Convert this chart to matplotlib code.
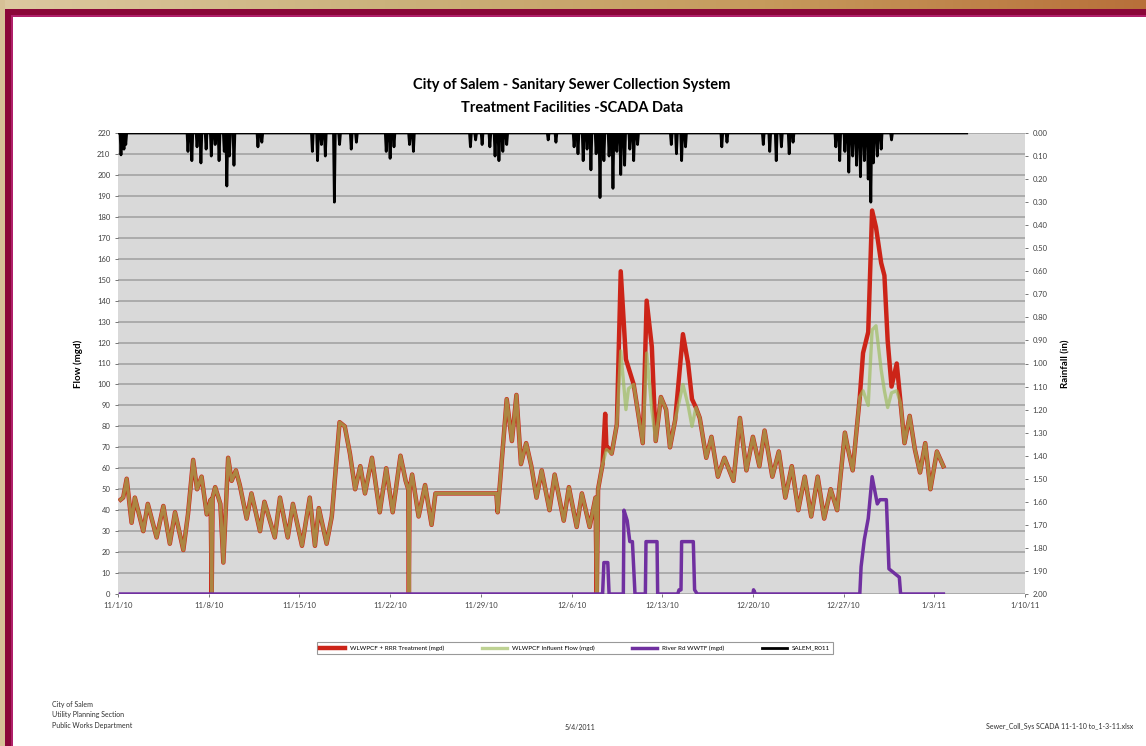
import matplotlib
matplotlib.use("Agg")
import matplotlib.pyplot as plt
import numpy as np
from matplotlib.patches import Rectangle
from matplotlib.colors import LinearSegmentedColormap

plt.rcParams['font.family'] = ['Lato', 'DejaVu Sans']

# x axis: days since 11/1/10
tick_days = [0, 7, 14, 21, 28, 35, 42, 49, 56, 63, 70]
tick_labels = ["11/1/10", "11/8/10", "11/15/10", "11/22/10", "11/29/10", "12/6/10",
               "12/13/10", "12/20/10", "12/27/10", "1/3/11", "1/10/11"]

# WLWPCF influent flow (mgd)
infl_day = [0.2, 0.4, 0.67, 1.05, 1.3, 1.95, 2.3, 2.98, 3.5, 4.0, 4.4, 5.04, 5.4, 5.8, 6.1,
            6.45, 6.85, 7.15, 7.23, 7.3, 7.5, 7.9, 8.13, 8.5, 8.77, 9.1, 9.4, 9.93, 10.3,
            10.96, 11.3, 12.1, 12.5, 13.1, 13.5, 14.2, 14.8, 15.2, 15.5, 16.1, 16.5, 17.1,
            17.5, 17.9, 18.3, 18.7, 19.06, 19.6, 20.2, 20.7, 21.2, 21.8, 22.2, 22.4, 22.45,
            22.5, 22.7, 23.2, 23.7, 24.2, 24.5, 29.2, 29.3, 30.0, 30.4, 30.75, 31.1, 31.5,
            31.9, 32.3, 32.7, 33.3, 33.7, 34.4, 34.8, 35.4, 35.8, 36.4, 36.85, 36.95, 37.05,
            37.4, 37.7, 38.1, 38.5, 38.8, 39.2, 39.4, 39.8, 40.5, 40.8, 41.2, 41.5, 41.9,
            42.3, 42.6, 43.0, 43.6, 44.0, 44.3, 44.6, 44.9, 45.4, 45.8, 46.3, 46.8, 47.5,
            48.0, 48.5, 49.0, 49.5, 49.9, 50.5, 51.0, 51.5, 52.0, 52.5, 53.0, 53.5, 54.0,
            54.5, 55.0, 55.5, 56.1, 56.35, 56.7, 57.25, 57.5, 57.9, 58.2, 58.5, 58.9, 59.15,
            59.4, 59.7, 60.1, 60.4, 60.7, 61.1, 61.5, 61.9, 62.3, 62.7, 63.2, 63.7]
infl_mgd = [45, 46, 55, 34, 46, 30, 43, 27, 42, 24, 39, 21, 38, 64, 50,
            56, 38, 45, 0, 46, 51, 43, 15, 65, 54, 59, 52, 36, 48,
            30, 44, 27, 46, 27, 43, 23, 46, 23, 41, 24, 37, 82,
            80, 67, 50, 61, 48, 65, 39, 60, 39, 66, 54, 50, 0,
            50, 57, 37, 52, 33, 48, 48, 39, 93, 73, 95, 62, 72,
            61, 46, 59, 40, 57, 35, 51, 32, 48, 32, 46, 0, 50,
            62, 69, 67, 81, 116, 88, 98, 100, 72, 115, 88, 73, 94,
            88, 70, 83, 100, 90, 80, 89, 84, 65, 75, 56, 65, 54,
            84, 59, 75, 61, 78, 56, 68, 46, 61, 40, 56, 37, 56,
            36, 50, 40, 77, 69, 59, 94, 97, 90, 126, 128, 107, 97,
            89, 96, 97, 91, 72, 85, 69, 58, 72, 50, 68, 61]

# WLWPCF + RRR treatment (mgd) where it departs from influent
trt_day = [37.6, 37.8, 38.8, 39.2, 39.4, 40.8, 41.2, 43.4, 43.6, 44.0, 44.3,
           57.5, 57.9, 58.2, 58.5, 58.9, 59.15, 59.4, 59.7, 60.1]
trt_mgd = [86, 70, 154, 112, 108, 140, 118, 110, 124, 110, 93,
           115, 125, 183, 175, 158, 152, 121, 99, 110]

# River Rd WWTF (mgd)
rr_day = [0.2, 37.4, 37.5, 37.8, 37.9, 39.0, 39.05, 39.3, 39.5, 39.7, 39.9, 40.7, 40.75,
          41.6, 41.65, 43.2, 43.3, 43.45, 43.5, 44.4, 44.5, 44.7, 49.0, 49.05, 49.2, 57.25,
          57.35, 57.6, 57.9, 58.2, 58.6, 58.8, 59.3, 59.5, 60.3, 60.4, 63.7]
rr_mgd = [0, 0, 15, 15, 0, 0, 40, 35, 25, 25, 0, 0, 25,
          25, 0, 0, 2, 2, 25, 25, 2, 0, 0, 2, 0, 0,
          13, 26, 36, 56, 43, 45, 45, 12, 8, 0, 0]

# SALEM_R011 rainfall (in)
rain_day = [0.23, 0.46, 0.6, 5.4, 5.7, 6.1, 6.4, 6.8, 7.2, 7.5, 7.8, 8.2, 8.4, 8.6, 8.95,
            10.8, 11.1, 15.0, 15.4, 15.7, 16.0, 16.7, 17.1, 18.0, 18.4, 20.7, 21.0, 21.3,
            22.5, 22.8, 27.2, 27.6, 28.1, 28.7, 29.1, 29.4, 29.7, 30.0, 33.2, 33.8, 35.2,
            35.5, 35.9, 36.2, 36.5, 36.9, 37.2, 37.5, 37.9, 38.2, 38.5, 38.8, 39.1, 39.5,
            39.8, 40.1, 42.7, 43.1, 43.5, 43.8, 46.6, 47.0, 49.8, 50.3, 50.8, 51.2, 51.8,
            52.1, 55.4, 55.7, 56.1, 56.4, 56.7, 57.0, 57.3, 57.6, 57.9, 58.1, 58.3, 58.6,
            58.9, 59.7]
rain_in = [0.095, 0.07, 0.05, 0.08, 0.12, 0.06, 0.13, 0.07, 0.10, 0.05, 0.12, 0.08, 0.23,
           0.10, 0.14, 0.06, 0.04, 0.08, 0.12, 0.05, 0.10, 0.30, 0.05, 0.07, 0.04, 0.08,
           0.11, 0.06, 0.05, 0.08, 0.06, 0.03, 0.05, 0.06, 0.10, 0.12, 0.08, 0.05, 0.03,
           0.04, 0.06, 0.09, 0.12, 0.07, 0.16, 0.09, 0.28, 0.12, 0.10, 0.24, 0.08, 0.18,
           0.14, 0.07, 0.12, 0.05, 0.05, 0.09, 0.12, 0.06, 0.06, 0.04, 0.05, 0.08, 0.12,
           0.06, 0.09, 0.04, 0.06, 0.12, 0.08, 0.17, 0.10, 0.14, 0.19, 0.12, 0.20, 0.30,
           0.13, 0.10, 0.07, 0.03]
rain_end = 65.5

# build treatment series: influent outside storm windows, treatment values inside
infl_day = np.array(infl_day)
infl_mgd = np.array(infl_mgd, dtype=float)
t_days = np.concatenate([infl_day, trt_day])
t_vals = np.concatenate([infl_mgd, trt_mgd])
order = np.argsort(t_days, kind="stable")
t_days, t_vals = t_days[order], t_vals[order]
# drop influent points that fall on a treatment day
keep = np.ones(len(t_days), bool)
for d in trt_day:
    idx = np.where(np.isclose(t_days, d))[0]
    if len(idx) > 1:
        keep[idx[0]] = False
t_days, t_vals = t_days[keep], t_vals[keep]

# rainfall as a spike line hanging from the top
rx, ry = [0.0], [0.0]
for d, v in zip(rain_day, rain_in):
    rx += [d - 0.07, d, d + 0.07]
    ry += [0.0, v, 0.0]
rx.append(rain_end)
ry.append(0.0)

fig = plt.figure(figsize=(11.46, 7.46), dpi=100)

# page frame
bg = fig.add_axes([0, 0, 1, 1], zorder=-5)
bg.set_xlim(0, 1146)
bg.set_ylim(746, 0)
bg.axis("off")
grad = np.linspace(0, 1, 256).reshape(1, -1)
cm = LinearSegmentedColormap.from_list("band", ["#dcc8a0", "#cbb27c", "#c69a5c", "#b8703a"])
bg.imshow(grad, cmap=cm, aspect="auto", extent=[0, 1146, 9, 0])
bg.add_patch(Rectangle((5, 9), 1141, 8, color="#8a0638", lw=0))
bg.add_patch(Rectangle((5, 15), 1141, 2, color="#b0206a", lw=0))
bg.add_patch(Rectangle((0, 0), 5, 746, color="#d6c096", lw=0))
bg.add_patch(Rectangle((5, 9), 8, 737, color="#8a0638", lw=0))
bg.add_patch(Rectangle((11, 15), 2, 731, color="#b0206a", lw=0))

ax = fig.add_axes([118 / 1146, 1 - 594 / 746, (1025 - 118) / 1146, (594 - 133) / 746])
ax.set_facecolor("#d9d9d9")
ax.set_xlim(0, 70)
ax.set_ylim(0, 220)
ax.set_yticks(np.arange(0, 221, 10))
ax.yaxis.grid(True, color="#a3a3a3", lw=1.2)
ax.set_axisbelow(True)
ax.set_xticks(tick_days)
ax.set_xticklabels(tick_labels)
ax.tick_params(labelsize=5.5, colors="#404040", length=2, width=0.5)
for s in ax.spines.values():
    s.set_visible(False)

l1, = ax.plot(t_days, t_vals, color="#cc2418", lw=3.2, solid_joinstyle="round",
              label="WLWPCF + RRR Treatment (mgd)", zorder=3)
l2, = ax.plot(infl_day, infl_mgd, color="#9bbb59", lw=2.4, alpha=0.65,
              label="WLWPCF Influent Flow (mgd)", zorder=4)
l3, = ax.plot(rr_day, rr_mgd, color="#7030a0", lw=2.5, label="River Rd WWTF (mgd)", zorder=5)
ax.set_ylabel("Flow (mgd)", fontsize=7, fontweight="bold", labelpad=10)

ax2 = ax.twinx()
ax2.set_ylim(2.0, 0.0)
ax2.set_yticks(np.arange(0, 2.01, 0.1))
ax2.set_yticklabels([f"{v:.2f}" for v in np.arange(0, 2.01, 0.1)])
ax2.tick_params(labelsize=5.5, colors="#404040", length=2, width=0.5)
for s in ax2.spines.values():
    s.set_visible(False)
l4, = ax2.plot(rx, ry, color="black", lw=2.0, label="SALEM_R011", zorder=6)
ax2.set_ylabel("Rainfall (in)", fontsize=7, fontweight="bold", rotation=90, labelpad=10)

fig.text(572 / 1146, 1 - 85 / 746, "City of Salem - Sanitary Sewer Collection System",
         ha="center", va="center", fontsize=10.5, fontweight="bold")
fig.text(572 / 1146, 1 - 108 / 746, "Treatment Facilities -SCADA Data",
         ha="center", va="center", fontsize=10.5, fontweight="bold")

leg = fig.legend(handles=[l1, l2, l3, l4], loc="center", ncol=4,
                 bbox_to_anchor=(575 / 1146, 1 - 648 / 746), fontsize=4.5,
                 frameon=True, fancybox=False, edgecolor="#808080",
                 handlelength=4, columnspacing=6, borderpad=0.5)
leg.get_frame().set_linewidth(0.8)

fig.text(52 / 1146, 1 - 715 / 746,
         "City of Salem\nUtility Planning Section\nPublic Works Department",
         ha="left", va="center", fontsize=5, color="#303030", linespacing=1.6)
fig.text(580 / 1146, 1 - 727 / 746, "5/4/2011", ha="center", va="center",
         fontsize=5, color="#303030")
fig.text(1133 / 1146, 1 - 727 / 746, "Sewer_Coll_Sys SCADA 11-1-10 to_1-3-11.xlsx",
         ha="right", va="center", fontsize=5, color="#303030")

fig.savefig("out.png", dpi=100)
